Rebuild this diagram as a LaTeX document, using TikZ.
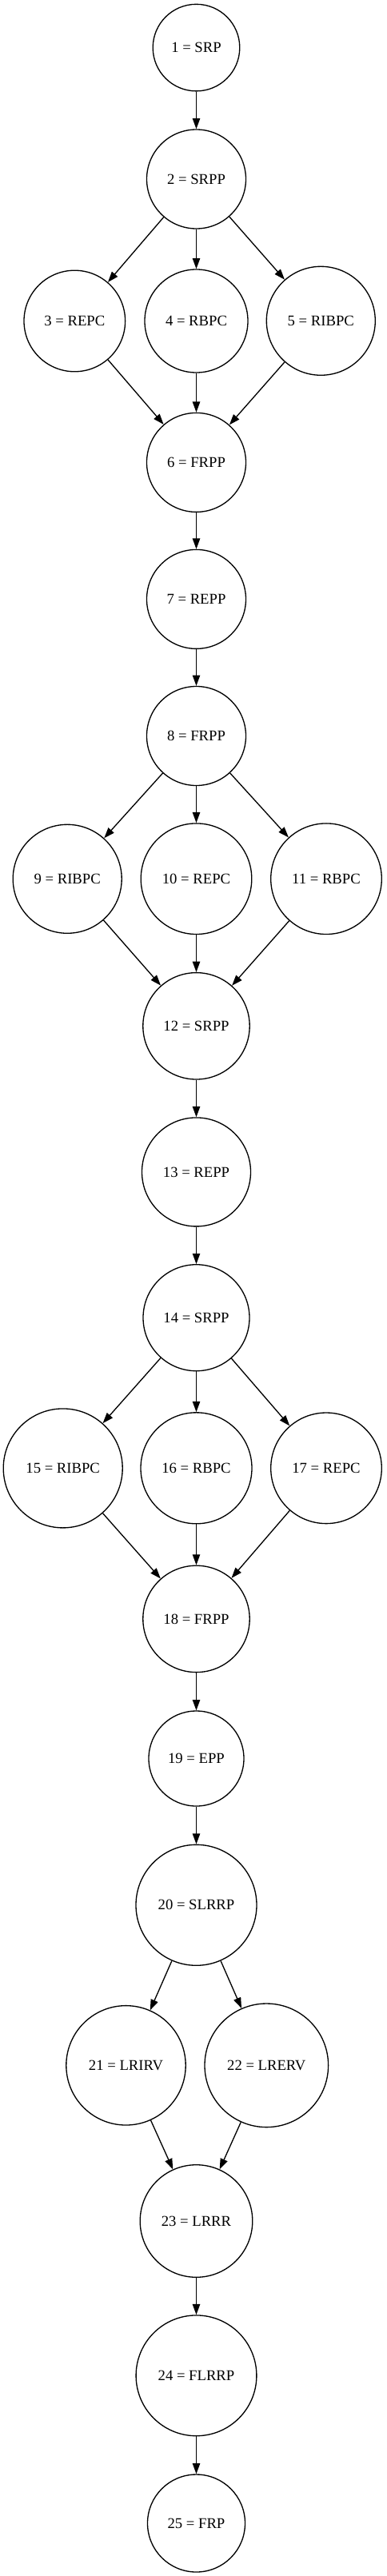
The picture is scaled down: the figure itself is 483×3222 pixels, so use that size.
\documentclass[tikz,border=0pt]{standalone}
\usepackage{fontspec}
\setmainfont{Liberation Serif}
\usetikzlibrary{arrows.meta}
\tikzset{
  gnode/.style={circle, draw=black, line width=1.33pt, inner sep=0pt,
    font=\fontsize{18.67pt}{22pt}\selectfont},
  gedge/.style={-{Triangle[length=13.3pt,width=9.4pt]}, line width=1.33pt, draw=black}
}
\begin{document}
\begin{tikzpicture}[x=1pt,y=-1pt]
\useasboundingbox[fill=white] (0,0) rectangle (483,3222);
\node[gnode, minimum size=108.6pt] (n1) at (245.5,59.6) {1 = SRP};
\node[gnode, minimum size=124pt] (n2) at (245.5,224) {2 = SRPP};
\node[gnode, minimum size=126.6pt] (n3) at (93.3,401.5) {3 = REPC};
\node[gnode, minimum size=129pt] (n4) at (245.5,401.5) {4 = RBPC};
\node[gnode, minimum size=136pt] (n5) at (401.3,401.3) {5 = RIBPC};
\node[gnode, minimum size=124pt] (n6) at (245.5,578.4) {6 = FRPP};
\node[gnode, minimum size=124pt] (n7) at (245.5,749.4) {7 = REPP};
\node[gnode, minimum size=124pt] (n8) at (245.5,920.5) {8 = FRPP};
\node[gnode, minimum size=136pt] (n9) at (84.2,1099.3) {9 = RIBPC};
\node[gnode, minimum size=138.6pt] (n10) at (245.5,1099.2) {10 = REPC};
\node[gnode, minimum size=138.6pt] (n11) at (408,1099.2) {11 = RBPC};
\node[gnode, minimum size=133.4pt] (n12) at (245.5,1283.3) {12 = SRPP};
\node[gnode, minimum size=136pt] (n13) at (245.5,1465.9) {13 = REPP};
\node[gnode, minimum size=133pt] (n14) at (245.5,1648.2) {14 = SRPP};
\node[gnode, minimum size=149pt] (n15) at (78.7,1836.4) {15 = RIBPC};
\node[gnode, minimum size=139pt] (n16) at (245.5,1836.3) {16 = RBPC};
\node[gnode, minimum size=138.6pt] (n17) at (408,1836.3) {17 = REPC};
\node[gnode, minimum size=133.4pt] (n18) at (245.5,2024.9) {18 = FRPP};
\node[gnode, minimum size=119pt] (n19) at (245.5,2199.5) {19 = EPP};
\node[gnode, minimum size=151pt] (n20) at (245.5,2382.8) {20 = SLRRP};
\node[gnode, minimum size=149.4pt] (n21) at (157.5,2583.3) {21 = LRIRV};
\node[gnode, minimum size=154.6pt] (n22) at (333.3,2583.3) {22 = LRERV};
\node[gnode, minimum size=140.6pt] (n23) at (245.5,2778) {23 = LRRR};
\node[gnode, minimum size=150.8pt] (n24) at (245.5,2971.3) {24 = FLRRP};
\node[gnode, minimum size=122pt] (n25) at (245.5,3156) {25 = FRP};
\foreach \a/\b in {n1/n2, n2/n3, n2/n4, n2/n5, n3/n6, n4/n6, n5/n6, n6/n7, n7/n8,
  n8/n9, n8/n10, n8/n11, n9/n12, n10/n12, n11/n12, n12/n13, n13/n14,
  n14/n15, n14/n16, n14/n17, n15/n18, n16/n18, n17/n18, n18/n19, n19/n20,
  n20/n21, n20/n22, n21/n23, n22/n23, n23/n24, n24/n25}
  \draw[gedge] (\a) -- (\b);
\end{tikzpicture}
\end{document}
